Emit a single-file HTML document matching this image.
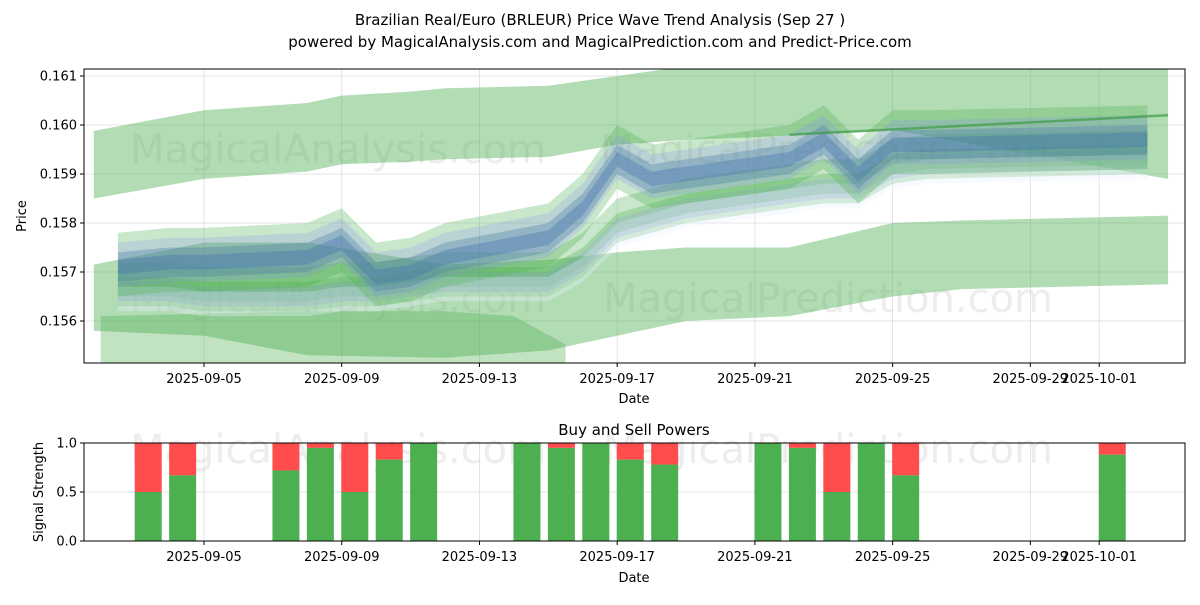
<!DOCTYPE html>
<html><head><meta charset="utf-8"><style>
body{margin:0;background:#fff;font-family:"Liberation Sans","DejaVu Sans",sans-serif}
svg text{font-family:"DejaVu Sans","Liberation Sans",sans-serif}
</style></head><body>
<svg id="c" width="1200" height="600" xmlns="http://www.w3.org/2000/svg">
<rect width="1200" height="600" fill="#fff"/>
<text x="600" y="25" text-anchor="middle" font-size="15">Brazilian Real/Euro (BRLEUR) Price Wave Trend Analysis (Sep 27 )</text>
<text x="600" y="47" text-anchor="middle" font-size="15">powered by MagicalAnalysis.com and MagicalPrediction.com and Predict-Price.com</text>
<g id="topg"></g><g id="botg"></g>
</svg>
<script>
const upperDays=[1.8,5,8,9,11,12,15,17,19,21,25,33];
const upperHi=[0.15988,0.1603,0.16045,0.1606,0.16068,0.16075,0.1608,0.161,0.1612,0.1612,0.1612,0.1612];
const upperLo=[0.1585,0.1589,0.15905,0.1592,0.15925,0.1593,0.15935,0.1596,0.1597,0.15975,0.1599,0.1589];
const lowerDays=[1.8,5,8,12,15,17,19,22,25,27,33];
const lowerHi=[0.15715,0.1576,0.1576,0.15715,0.15725,0.1574,0.1575,0.1575,0.158,0.15805,0.15815];
const lowerLo=[0.1558,0.1557,0.1553,0.15525,0.1554,0.1557,0.156,0.1561,0.1565,0.15665,0.15675];
const baseDays=[2,8,12,14,15.5];
const baseHi=[0.1561,0.1562,0.1562,0.1561,0.15552];
const baseLo=[0.1549,0.1549,0.1549,0.1549,0.1549];
const midDays=[2.5,4,5,8,9,10,11,12,15,16,17,18,19,22,23,24,25,26,32.4];
const midCenter=[0.1571,0.1572,0.1572,0.1573,0.1576,0.1569,0.1570,0.1573,0.1577,0.1583,0.1593,0.1589,0.1590,0.1593,0.1597,0.1590,0.1596,0.1596,0.1597];
const lowCenter=[0.1566,0.1566,0.1565,0.1565,0.1566,0.1566,0.1567,0.1568,0.1568,0.1572,0.1579,0.1581,0.1583,0.1586,0.1587,0.1587,0.1591,0.1592,0.1593];
const yTicks=[0.156,0.157,0.158,0.159,0.160,0.161];
const xTickDays=[5,9,13,17,21,25,29,31];
const xTickLabels=["2025-09-05","2025-09-09","2025-09-13","2025-09-17","2025-09-21","2025-09-25","2025-09-29","2025-10-01"];
const barDays=[4,5,8,9,10,11,12,15,16,17,18,19,22,23,24,25,26,32];
const buyVals=[0.5,0.67,0.72,0.95,0.5,0.83,1.0,1.0,0.95,1.0,0.83,0.78,1.0,0.95,0.5,1.0,0.67,0.88];
const sigTicks=[0,0.5,1];

const NS="http://www.w3.org/2000/svg";
const X0=84,X1=1185,TY0=69,TY1=363,BY0=443,BY1=541;
const xs=d=>204+(d-5)*34.43;
const ys=v=>321-(v-0.156)*49000;
const yb=v=>BY1-v*(BY1-BY0);
function mk(p,t,a){const e=document.createElementNS(NS,t);for(const k in a)e.setAttribute(k,a[k]);p.appendChild(e);return e;}
const topG=document.getElementById('topg'),botG=document.getElementById('botg');
const cp=mk(topG,'clipPath',{id:'cp'});mk(cp,'rect',{x:X0,y:TY0,width:X1-X0,height:TY1-TY0});
yTicks.forEach(v=>{const l=mk(topG,'line',{x1:X0,x2:X1,y1:ys(v),y2:ys(v),stroke:'#ddd','stroke-width':0.8});});
xTickDays.forEach(d=>{const l=mk(topG,'line',{x1:xs(d),x2:xs(d),y1:TY0,y2:TY1,stroke:'#ddd','stroke-width':0.8});});
const wm=(g,x,y,t)=>{const e=mk(g,'text',{x:x,y:y,'font-size':40,fill:'#ccc','fill-opacity':0.35});e.textContent=t;};
wm(topG,130,163,'MagicalAnalysis.com');wm(topG,600,163,'MagicalPrediction.com');
wm(topG,130,312,'MagicalAnalysis.com');wm(topG,603,312,'MagicalPrediction.com');
const g=mk(topG,'g',{'clip-path':'url(#cp)'});
function band(days,hi,lo,fill,op,name){
  let pts=days.map((d,i)=>xs(d)+','+ys(hi[i]));
  pts=pts.concat(days.map((d,i)=>xs(d)+','+ys(lo[i])).reverse());
  const p=mk(g,'polygon',{points:pts.join(' '),fill:fill,'fill-opacity':op});
  
}
band(upperDays,upperHi,upperLo,'#4caf50',0.43,'upper-green-band');
band(lowerDays,lowerHi,lowerLo,'#4caf50',0.43,'lower-green-band');
band(baseDays,baseHi,baseLo,'#4caf50',0.35,'base-green-band');
const offs=[[0.0006,-0.0001,'#4caf50',0.3],[0.0003,-0.0003,'#4caf50',0.3],[0.0001,-0.0004,'#e8f0ff',0.35],[0.0002,-0.0002,'#8080ff',0.15]];
offs.forEach(o=>band(midDays,lowCenter.map(v=>v+o[0]),lowCenter.map(v=>v+o[1]),o[2],o[3],'low-wave-band'));
const mo=[[0.0007,-0.0006,'#4caf50',0.3],[0.0005,-0.0004,'#8080ff',0.2],[0.0003,-0.0003,'#4a7fa5',0.35],[0.00015,-0.00015,'#3f6fb0',0.35]];
mo.forEach(o=>band(midDays,midCenter.map(v=>v+o[0]),midCenter.map(v=>v+o[1]),o[2],o[3],'mid-wave-band'));
const ln=mk(g,'polyline',{points:[[xs(22),ys(0.1598)],[xs(33),ys(0.1602)]].map(p=>p.join(',')).join(' '),stroke:'#3f9a45','stroke-width':2.5,'stroke-opacity':0.7,fill:'none'});

mk(topG,'rect',{x:X0,y:TY0,width:X1-X0,height:TY1-TY0,fill:'none',stroke:'#000','stroke-width':1});
yTicks.forEach(v=>{mk(topG,'line',{x1:X0-4,x2:X0,y1:ys(v),y2:ys(v),stroke:'#000'});const t=mk(topG,'text',{x:X0-7,y:ys(v)+4.5,'text-anchor':'end','font-size':13});t.textContent=v.toFixed(3);});
xTickDays.forEach((d,i)=>{mk(topG,'line',{x1:xs(d),x2:xs(d),y1:TY1,y2:TY1+4,stroke:'#000'});const t=mk(topG,'text',{x:xs(d),y:TY1+20,'text-anchor':'middle','font-size':13});t.textContent=xTickLabels[i];});
let tt=mk(topG,'text',{x:634,y:403,'text-anchor':'middle','font-size':13});tt.textContent='Date';
tt=mk(topG,'text',{x:26,y:216,'text-anchor':'middle','font-size':13,transform:'rotate(-90 26 216)'});tt.textContent='Price';
sigTicks.forEach(v=>{const l=mk(botG,'line',{x1:X0,x2:X1,y1:yb(v),y2:yb(v),stroke:'#ddd','stroke-width':0.8});});
xTickDays.forEach(d=>mk(botG,'line',{x1:xs(d),x2:xs(d),y1:BY0,y2:BY1,stroke:'#ddd','stroke-width':0.8}));
wm(botG,130,463,'MagicalAnalysis.com');wm(botG,603,463,'MagicalPrediction.com');
barDays.forEach((d,i)=>{
  const x=xs(d-0.62)-13.5;
  const s=mk(botG,'rect',{x:x,y:yb(1),width:27,height:yb(buyVals[i])-yb(1),fill:'#ff4d4d'});
  
  const b=mk(botG,'rect',{x:x,y:yb(buyVals[i]),width:27,height:BY1-yb(buyVals[i]),fill:'#4caf50'});
  
});
mk(botG,'rect',{x:X0,y:BY0,width:X1-X0,height:BY1-BY0,fill:'none',stroke:'#000','stroke-width':1});
sigTicks.forEach(v=>{mk(botG,'line',{x1:X0-4,x2:X0,y1:yb(v),y2:yb(v),stroke:'#000'});const t=mk(botG,'text',{x:X0-7,y:yb(v)+4.5,'text-anchor':'end','font-size':13});t.textContent=v.toFixed(1);});
xTickDays.forEach((d,i)=>{mk(botG,'line',{x1:xs(d),x2:xs(d),y1:BY1,y2:BY1+4,stroke:'#000'});const t=mk(botG,'text',{x:xs(d),y:BY1+20,'text-anchor':'middle','font-size':13});t.textContent=xTickLabels[i];});
tt=mk(botG,'text',{x:634,y:582,'text-anchor':'middle','font-size':13});tt.textContent='Date';
tt=mk(botG,'text',{x:634,y:435,'text-anchor':'middle','font-size':15});tt.textContent='Buy and Sell Powers';
tt=mk(botG,'text',{x:43,y:492,'text-anchor':'middle','font-size':13,transform:'rotate(-90 43 492)'});tt.textContent='Signal Strength';
</script>
</body></html>
